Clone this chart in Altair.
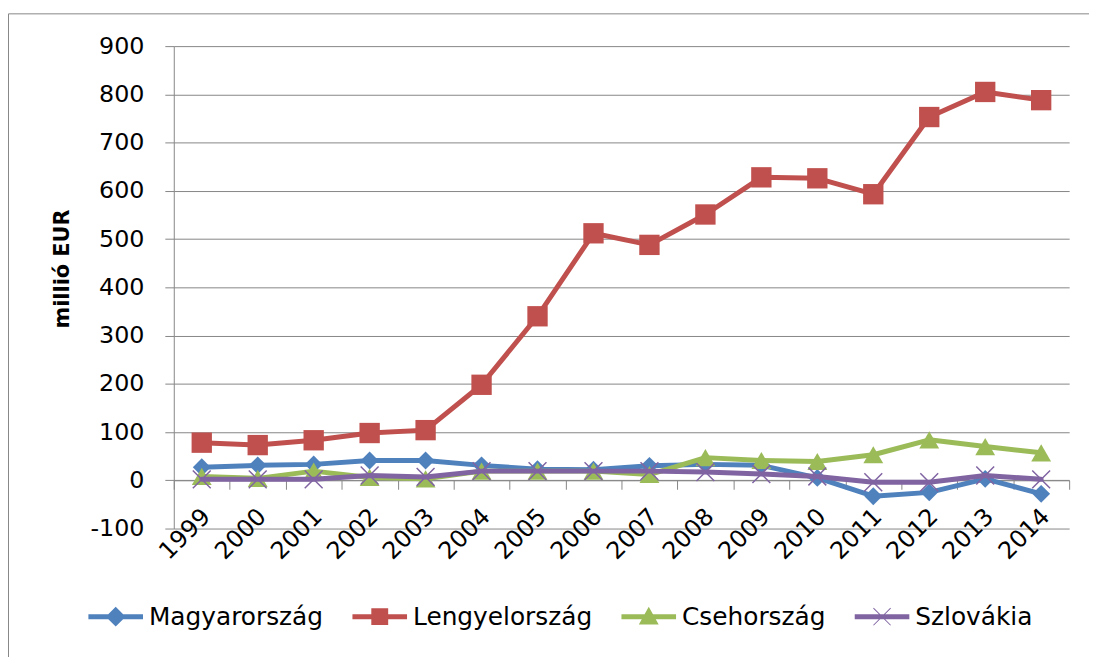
import altair as alt
import pandas as pd

years = ["1999", "2000", "2001", "2002", "2003", "2004", "2005", "2006",
         "2007", "2008", "2009", "2010", "2011", "2012", "2013", "2014"]
series_names = ["Magyarország", "Lengyelország", "Csehország", "Szlovákia"]
hu = [27, 31, 33, 41, 41, 31, 23, 22, 30, 33, 31, 5, -33, -25, 3, -28]
pl = [78, 73, 83, 98, 104, 198, 340, 512, 488, 551, 628, 626, 593, 753, 805, 788]
cz = [8, 4, 19, 6, 3, 19, 19, 19, 12, 47, 41, 39, 53, 84, 70, 57]
sk = [2, 2, 2, 10, 7, 19, 19, 19, 19, 17, 13, 8, -4, -4, 10, 2]
colors = ["#4F81BD", "#C0504D", "#9BBB59", "#8064A2"]
y_ticks = [-100, 0, 100, 200, 300, 400, 500, 600, 700, 800, 900]

rows = []
for name, vals in zip(series_names, [hu, pl, cz, sk]):
    for yr, v in zip(years, vals):
        rows.append({"year": yr, "series": name, "value": v})
df = pd.DataFrame(rows)

W, H = 902, 486
GRAY = "#868686"
FONT = "DejaVu Sans"

x_enc = alt.X(
    "year:O", sort=years,
    scale=alt.Scale(type="band", domain=years, paddingInner=0, paddingOuter=0),
    axis=alt.Axis(title=None, labelAngle=-45, labelAlign="right", labelBaseline="top",
                  labelFontSize=24, labelFont=FONT, labelColor="black", labelPadding=15,
                  labelOffset=-4,
                  tickBand="extent", tickSize=9, tickColor=GRAY, domainColor=GRAY,
                  grid=False, offset=-H * 0.1),
)
y_enc = alt.Y(
    "value:Q",
    scale=alt.Scale(domain=[-100, 900], nice=False, zero=False),
    axis=alt.Axis(title="millió EUR", values=y_ticks, grid=True, gridColor=GRAY, gridWidth=1,
                  domainColor=GRAY, tickColor=GRAY, tickSize=9, labelPadding=21,
                  labelExpr="toString(datum.value)",
                  labelFontSize=24, labelFont=FONT, labelColor="black",
                  titleFont=FONT, titleFontSize=21, titleFontWeight="bold", titleColor="black",
                  titleX=-106, titleY=224, titleBaseline="alphabetic", titleAlign="center"),
)
color_scale = alt.Scale(domain=series_names, range=colors)

marker_shapes = ["diamond", "square", "triangle-up", "M-1,-1L1,1M-1,1L1,-1"]
marker_sizes = [324, 420, 400, 324]

layers = []
border = alt.Chart(pd.DataFrame({"b": [0]})).mark_rect(
    fillOpacity=0, stroke=GRAY, strokeWidth=1
).encode(x=alt.value(-166.5), x2=alt.value(1000), y=alt.value(-32.5), y2=alt.value(700))
layers.append(border)

for i, name in enumerate(series_names):
    base = alt.Chart(df).transform_filter(alt.datum.series == name)
    line = base.mark_line(strokeWidth=5, strokeJoin="round", strokeCap="round").encode(
        x=x_enc, y=y_enc, color=alt.Color("series:N", scale=color_scale, legend=None))
    if i < 3:
        pts = base.mark_point(shape=marker_shapes[i], size=marker_sizes[i], filled=True,
                              opacity=1, strokeWidth=0)
    else:
        pts = base.mark_point(shape=marker_shapes[i], size=marker_sizes[i], filled=False,
                              opacity=1, strokeWidth=1.5)
    pts = pts.encode(x=x_enc, y=y_enc,
                     color=alt.Color("series:N", scale=color_scale, legend=None))
    layers += [line, pts]

legend_paths = [
    "M-2.75,-0.25H2.75V0.25H-2.75Z M0,-1L1,0L0,1L-1,0Z",
    "M-2.75,-0.25H2.75V0.25H-2.75Z M-0.85,-0.85H0.85V0.85H-0.85Z",
    "M-2.75,-0.25H2.75V0.25H-2.75Z M0,-1L1,0.8L-1,0.8Z",
    "M-2.75,-0.25H2.75V0.25H-2.75Z M-0.9,-0.83L-0.83,-0.9L0.9,0.83L0.83,0.9Z M-0.9,0.83L0.83,-0.9L0.9,-0.83L-0.83,0.9Z",
]
leg = alt.Legend(title=None, orient="none", legendX=-89, legendY=562, direction="horizontal",
                 symbolSize=400, symbolStrokeWidth=0, symbolOffset=18, labelOffset=21,
                 labelFontSize=25, labelFont=FONT, labelColor="black", columnPadding=26,
                 padding=0, labelLimit=400)
legend_layer = alt.Chart(df).mark_point(filled=True, size=0, opacity=1).encode(
    x=x_enc, y=y_enc,
    color=alt.Color("series:N", scale=color_scale, legend=leg),
    shape=alt.Shape("series:N", scale=alt.Scale(domain=series_names, range=legend_paths), legend=leg),
)
layers.append(legend_layer)

chart = alt.layer(*layers).resolve_scale(
    color="independent", shape="independent"
).properties(
    width=W, height=H,
    autosize=alt.AutoSizeParams(type="none"),
    padding={"left": 167, "top": 36, "right": 20, "bottom": 127},
    background="white",
).configure_view(strokeWidth=0)

chart.save("out.html", embed_options={"renderer": "svg", "actions": False})
